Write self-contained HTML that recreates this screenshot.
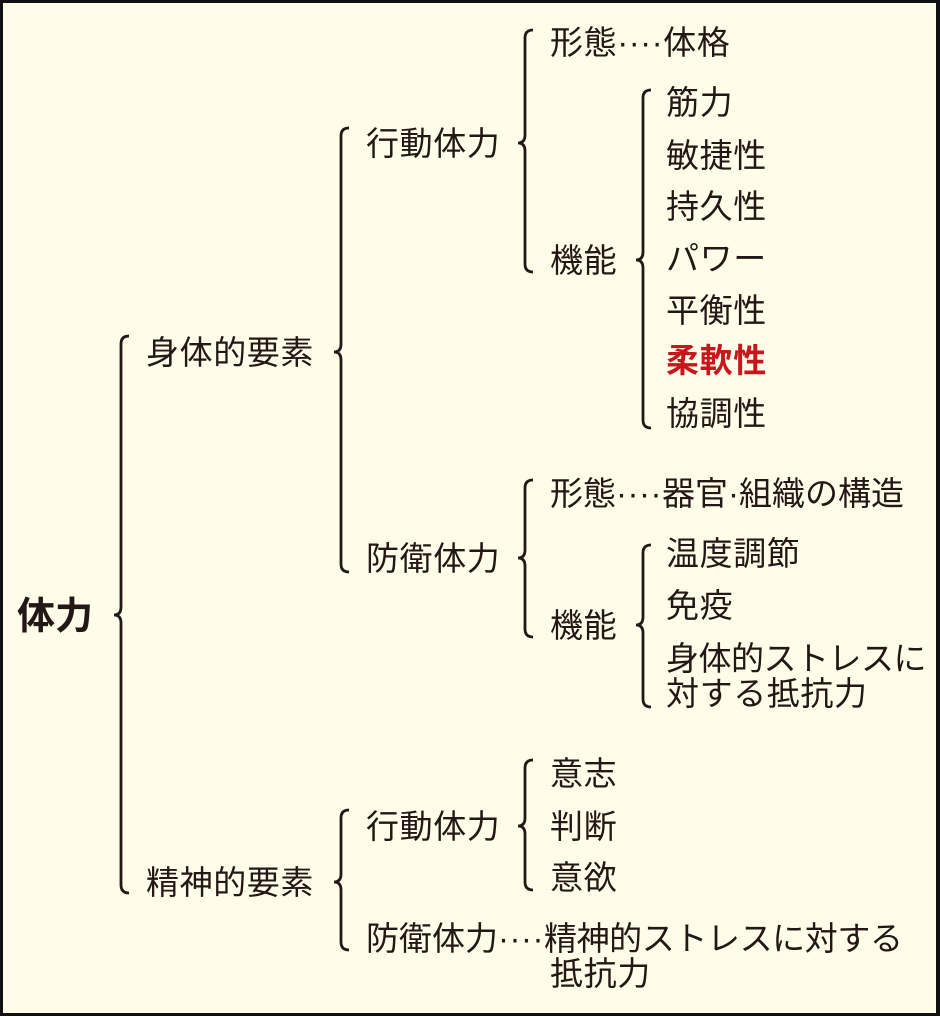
<!DOCTYPE html>
<html><head><meta charset="utf-8"><style>
html,body{margin:0;padding:0;background:#000;}
svg{display:block;}
text{font-family:"Liberation Sans","Noto Sans CJK JP",sans-serif;font-size:33px;letter-spacing:0.6px;fill:#231815;}
</style></head><body>
<svg width="940" height="1016" viewBox="0 0 940 1016" xmlns="http://www.w3.org/2000/svg">
<rect x="0" y="0" width="940" height="1016" fill="#111"/>
<rect x="3" y="3" width="933" height="1010" fill="#fffde9"/>
<g fill="none" stroke="#231815" stroke-width="2.8">
<path d="M129,336 Q121,336 121,344 L121,607 Q121,615 114,615 Q121,615 121,623 L121,885 Q121,893 129,893"/>
<path d="M349,128 Q341,128 341,136 L341,344 Q341,352 334,352 Q341,352 341,360 L341,564 Q341,572 349,572"/>
<path d="M349,810 Q341,810 341,818 L341,874 Q341,882 334,882 Q341,882 341,890 L341,942 Q341,950 349,950"/>
<path d="M533,30 Q525,30 525,38 L525,135 Q525,143 518,143 Q525,143 525,151 L525,264 Q525,272 533,272"/>
<path d="M651,90 Q643,90 643,98 L643,252 Q643,260 636,260 Q643,260 643,268 L643,420 Q643,428 651,428"/>
<path d="M533,480 Q525,480 525,488 L525,550 Q525,558 518,558 Q525,558 525,566 L525,629 Q525,637 533,637"/>
<path d="M651,545 Q643,545 643,553 L643,617 Q643,625 636,625 Q643,625 643,633 L643,699 Q643,707 651,707"/>
<path d="M533,760 Q525,760 525,768 L525,818 Q525,826 518,826 Q525,826 525,834 L525,882 Q525,890 533,890"/>
</g>
<text x="17" y="629" style="font-size:38px;font-weight:bold;letter-spacing:0">体力</text>
<text x="146" y="364">身体的要素</text>
<text x="146" y="894">精神的要素</text>
<text x="366" y="155">行動体力</text>
<text x="366" y="570">防衛体力</text>
<text x="366" y="838">行動体力</text>
<text x="366" y="950" style="letter-spacing:0">防衛体力<tspan letter-spacing="0.5">····</tspan><tspan letter-spacing="-0.4">精神的ストレスに対する</tspan></text>
<text x="550" y="985">抵抗力</text>
<text x="550" y="54">形態<tspan letter-spacing="0.5">····</tspan>体格</text>
<text x="550" y="272">機能</text>
<text x="666" y="114">筋力</text>
<text x="666" y="167">敏捷性</text>
<text x="666" y="218">持久性</text>
<text x="666" y="270">パワー</text>
<text x="666" y="322">平衡性</text>
<text x="666" y="372" style="fill:#c8161d;font-weight:bold">柔軟性</text>
<text x="666" y="425">協調性</text>
<text x="550" y="505" style="letter-spacing:0">形態<tspan letter-spacing="0.5">····</tspan>器官·組織の構造</text>
<text x="550" y="637">機能</text>
<text x="666" y="565">温度調節</text>
<text x="666" y="617">免疫</text>
<text x="666" y="670" style="letter-spacing:-0.5px">身体的ストレスに</text>
<text x="666" y="705">対する抵抗力</text>
<text x="550" y="785">意志</text>
<text x="550" y="838">判断</text>
<text x="550" y="889">意欲</text>
</svg>
</body></html>
